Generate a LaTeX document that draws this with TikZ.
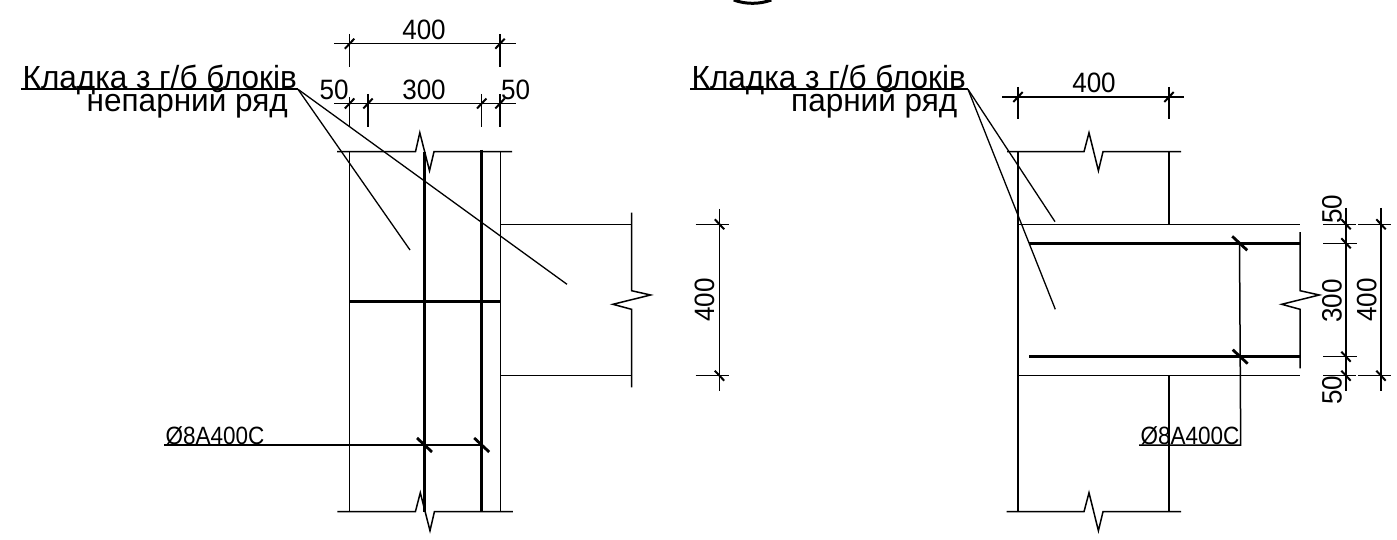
\documentclass[tikz,border=0pt]{standalone}
\usepackage{fontspec}
\setmainfont{Liberation Sans}
\tikzset{
  thin line/.style={line width=1.3pt,line cap=butt},
  ext line/.style={line width=1.5pt},
  under line/.style={line width=1.8pt},
  wall line/.style={line width=1.5pt,line join=miter},
  bar line/.style={line width=3pt},
  mid bar/.style={line width=2.6pt},
  tick mark/.style={line width=2pt},
  bar tick/.style={line width=2.8pt},
  dimtext/.style={font=\fontsize{28}{28}\selectfont,inner sep=0pt,xscale=0.93},
  labeltext/.style={font=\fontsize{32}{32}\selectfont,inner sep=0pt,anchor=base east,xscale=0.985},
  rebartext/.style={font=\fontsize{25}{25}\selectfont,inner sep=0pt,anchor=base west,xscale=0.9},
}
\newcommand{\dslash}[2]{\draw[tick mark] (#1-4.7,#2+5) -- (#1+4.7,#2-5);}
\newcommand{\dback}[2]{\draw[tick mark] (#1-4.7,#2-5) -- (#1+4.7,#2+5);}
\newcommand{\bback}[2]{\draw[bar tick] (#1-7.5,#2-7) -- (#1+7.5,#2+7);}
\begin{document}
\begin{tikzpicture}[x=1pt,y=-1pt]
\useasboundingbox (0,0) rectangle (1397,540);
% top circle remnant
\draw[line width=3pt] (733.7,0) arc[start angle=110,end angle=70,radius=55];
% LEFT
\node[dimtext] (t1) at (424,30) {400};
\node[dimtext] (t2) at (424,90) {300};
\node[dimtext] (t3) at (334,90) {50};
\node[dimtext] (t4) at (515.6,90) {50};
\draw[ext line] (334,43.7) -- (515.6,43.7);
\draw[ext line] (349.6,34) -- (349.6,66.7);
\draw[ext line] (500,34) -- (500,66.7);
\dslash{349.6}{43.7}\dslash{500}{43.7}
\draw[ext line] (334,103.5) -- (515.6,103.5);
\draw[ext line] (349.6,97) -- (349.6,127);
\draw[ext line] (368,94) -- (368,127);
\draw[ext line] (481.7,94) -- (481.7,127);
\draw[ext line] (500,94) -- (500,127);
\dslash{349.6}{103.5}\dslash{368}{103.5}\dslash{481.7}{103.5}\dslash{500}{103.5}
\node[labeltext] (l1) at (297,88.3) {Кладка з г/б блоків};
\node[labeltext] (l2) at (288,111.7) {непарний ряд};
\coordinate (la) at (21,89.3);
\coordinate (lb) at (298,89.3);
\coordinate (le1) at (410,250);
\coordinate (le2) at (567,284.3);
\draw[under line] (la) -- (lb);
\draw[thin line] (lb) -- (le1);
\draw[thin line] (lb) -- (le2);
\draw[wall line] (337,151.7) -- (415.5,151.7) -- (419.8,132.7) -- (429.5,170.7) -- (434,151.7) -- (512,151.7);
\draw[wall line] (337.3,511.7) -- (415.4,511.7) -- (420.3,492.7) -- (430,530.7) -- (434.4,511.7) -- (512.9,511.7);
\draw[ext line] (349.6,151.7) -- (349.6,511.7);
\draw[ext line] (500.4,151.7) -- (500.4,511.7);
\draw[mid bar] (424.5,152) -- (424.5,511.7);
\draw[bar line] (481.7,150) -- (481.7,511.7);
\draw[mid bar] (349.6,301.7) -- (500.4,301.7);
\draw[ext line] (500.4,224.3) -- (631.5,224.3);
\draw[ext line] (500.4,375.7) -- (631.5,375.7);
\draw[ext line] (631.5,212.7) -- (631.5,290.7) -- (650.6,295) -- (612.9,304.3) -- (631.5,309.3) -- (631.5,387.3);
\draw[ext line] (719.5,209) -- (719.5,391);
\draw[ext line] (695.5,224.3) -- (728.5,224.3);
\draw[ext line] (695.5,375.7) -- (728.5,375.7);
\dback{719.5}{224.3}\dback{719.5}{375.7}
\node[rotate=90,dimtext] (t5) at (704.5,300) {400};
\node[rebartext] (r1) at (165.5,444) {Ø8A400C};
\draw[ext line] (164,445) -- (481.7,445);
\bback{424.5}{445}\bback{481.7}{445}
% RIGHT
\node[labeltext] (l3) at (966,88.3) {Кладка з г/б блоків};
\node[labeltext] (l4) at (957.5,111.7) {парний ряд};
\coordinate (ra) at (690,89.3);
\coordinate (rb) at (968,89.3);
\coordinate (re1) at (1055,221.7);
\coordinate (re2) at (1055.3,309.3);
\draw[under line] (ra) -- (rb);
\draw[thin line] (rb) -- (re1);
\draw[thin line] (rb) -- (re2);
\node[dimtext] (t6) at (1094,83.3) {400};
\draw[ext line] (1002.4,97) -- (1184,97);
\draw[ext line] (1018,87) -- (1018,119.3);
\draw[ext line] (1169,87) -- (1169,119.3);
\dslash{1018}{97}\dslash{1169}{97}
\draw[wall line] (1007,151.7) -- (1084,151.7) -- (1089,132.7) -- (1098.4,170.7) -- (1103,151.7) -- (1181,151.7);
\draw[wall line] (1006.5,511.7) -- (1084,511.7) -- (1089,492.7) -- (1098.4,530.7) -- (1103,511.7) -- (1181,511.7);
\draw[ext line] (1017.8,151.7) -- (1017.8,511.7);
\draw[ext line] (1169,151.7) -- (1169,224.3);
\draw[ext line] (1169,375.7) -- (1169,511.7);
\draw[ext line] (1018,224.3) -- (1300,224.3);
\draw[ext line] (1018,375.7) -- (1300,375.7);
\draw[ext line] (1300,232) -- (1300,290.7) -- (1319.3,295) -- (1281.7,304.3) -- (1300,309.3) -- (1300,368.3);
\draw[bar line] (1029,243.3) -- (1300,243.3);
\draw[bar line] (1029,356.7) -- (1300,356.7);
\draw[ext line] (1239.5,243.3) -- (1240.7,445) -- (1139,445);
\bback{1239.7}{243.3}\bback{1240.2}{356.7}
\node[rebartext] (r2) at (1140.5,444) {Ø8A400C};
\draw[ext line] (1346,208) -- (1346,390.7);
\draw[ext line] (1381,208) -- (1381,390.7);
\draw[ext line] (1323.4,224.3) -- (1356,224.3);
\draw[ext line] (1323.4,243.3) -- (1356.5,243.3);
\draw[ext line] (1323.4,356.7) -- (1356.5,356.7);
\draw[ext line] (1323.4,375.7) -- (1356,375.7);
\draw[ext line] (1358,224.3) -- (1391,224.3);
\draw[ext line] (1358,375.7) -- (1391,375.7);
\dback{1346}{224.3}\dback{1346}{243.3}\dback{1346}{356.7}\dback{1346}{375.7}
\dback{1381}{224.3}\dback{1381}{375.7}
\node[rotate=90,dimtext] (t7) at (1332,209) {50};
\node[rotate=90,dimtext] (t8) at (1332,301) {300};
\node[rotate=90,dimtext] (t9) at (1366.7,300) {400};
\node[rotate=90,dimtext] (t10) at (1332,390) {50};
\end{tikzpicture}
\end{document}
